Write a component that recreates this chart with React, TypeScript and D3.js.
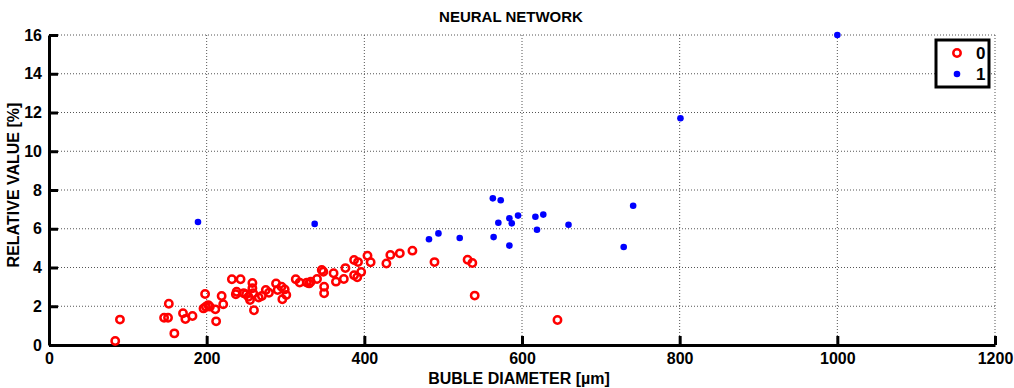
import React, { useEffect, useRef } from "react";
import * as d3 from "d3";

// Class 0 measurements: bubble diameter [µm] and relative value [%]
const class0Diameter = [
  84, 90, 146, 151, 152, 159, 170, 173, 182, 196, 198, 199, 202, 204, 211, 212,
  219, 221, 232, 237, 238, 243, 247, 250, 253, 255, 258, 258, 259, 260, 266, 270,
  275, 279, 288, 290, 295, 296, 299, 301, 313, 318, 327, 330, 332, 340, 346, 348,
  349, 349, 361, 364, 374, 376, 387, 387, 391, 392, 396, 404, 408, 428, 433, 445,
  461, 489, 531, 537, 540, 645,
];
const class0Value = [
  0.21, 1.31, 1.41, 1.41, 2.13, 0.6, 1.64, 1.34, 1.5, 1.89, 2.63, 1.98, 2.06, 1.98, 1.84, 1.22,
  2.53, 2.1, 3.39, 2.62, 2.75, 3.39, 2.67, 2.62, 2.49, 2.32, 3.2, 2.93, 2.67, 1.79, 2.45, 2.53,
  2.84, 2.7, 3.18, 2.84, 3.01, 2.36, 2.87, 2.58, 3.39, 3.22, 3.22, 3.18, 3.27, 3.41, 3.87, 3.78,
  3.01, 2.67, 3.7, 3.27, 3.41, 3.97, 4.39, 3.6, 3.5, 4.28, 3.77, 4.61, 4.27, 4.21, 4.65, 4.73,
  4.87, 4.28, 4.4, 4.23, 2.55, 1.29,
];

// Class 1 measurements
const class1Diameter = [
  189, 337, 482, 494, 521, 563, 573, 570, 584, 587, 595, 617, 627, 619, 659, 564,
  584, 741, 729, 801, 1000,
];
const class1Value = [
  6.35, 6.25, 5.46, 5.76, 5.52, 7.57, 7.47, 6.31, 6.54, 6.28, 6.68, 6.62, 6.73, 5.95, 6.21, 5.57,
  5.13, 7.19, 5.06, 11.7, 16.0,
];

const xTicks = [0, 200, 400, 600, 800, 1000, 1200];
const yTicks = [0, 2, 4, 6, 8, 10, 12, 14, 16];
const legendLabels = ["0", "1"];

const W = 1014;
const H = 388;
const M = { left: 49, right: 995, top: 35, bottom: 345 };
const FONT = "'Liberation Sans', Arial, Helvetica, sans-serif";

export default function App() {
  const ref = useRef<SVGSVGElement>(null);

  useEffect(() => {
    const svg = d3.select(ref.current);
    svg.selectAll("*").remove();

    const x = d3.scaleLinear().domain([0, 1200]).range([M.left, M.right]);
    const y = d3.scaleLinear().domain([0, 16]).range([M.bottom, M.top]);

    svg.append("rect").attr("width", W).attr("height", H).attr("fill", "#fff");

    // dotted grid
    const grid = svg.append("g").attr("stroke", "#555").attr("stroke-width", 1).attr("stroke-dasharray", "1,2");
    xTicks.slice(1).forEach((t) => {
      grid.append("line").attr("x1", x(t)).attr("x2", x(t)).attr("y1", M.top).attr("y2", M.bottom);
    });
    yTicks.slice(1).forEach((t) => {
      grid.append("line").attr("x1", M.left).attr("x2", M.right).attr("y1", y(t)).attr("y2", y(t));
    });

    // axes
    const fmt = d3.format("d");
    const xAxis = d3.axisBottom(x).tickValues(xTicks).tickFormat(fmt).tickSize(-9).tickPadding(8).tickSizeOuter(0);
    const gx = svg.append("g").attr("transform", `translate(0,${M.bottom})`).call(xAxis);
    const yAxis = d3.axisLeft(y).tickValues(yTicks).tickFormat(fmt).tickSize(-9).tickPadding(7).tickSizeOuter(0);
    const gy = svg.append("g").attr("transform", `translate(${M.left},0)`).call(yAxis);
    [gx, gy].forEach((g) => {
      g.select(".domain").attr("stroke", "#000").attr("stroke-width", 3);
      g.selectAll(".tick line").attr("stroke", "#000").attr("stroke-width", 3);
      g.selectAll(".tick text")
        .attr("font-family", FONT)
        .attr("font-weight", "bold")
        .attr("font-size", 16)
        .attr("fill", "#000");
    });

    // class 0: red open circles
    svg.append("g")
      .selectAll("circle")
      .data(d3.range(class0Diameter.length))
      .join("circle")
      .attr("cx", (i) => x(class0Diameter[i]))
      .attr("cy", (i) => y(class0Value[i]))
      .attr("r", 3.7)
      .attr("fill", "none")
      .attr("stroke", "#ff0000")
      .attr("stroke-width", 2.5);

    // class 1: blue dots
    svg.append("g")
      .selectAll("circle")
      .data(d3.range(class1Diameter.length))
      .join("circle")
      .attr("cx", (i) => x(class1Diameter[i]))
      .attr("cy", (i) => y(class1Value[i]))
      .attr("r", 3.3)
      .attr("fill", "#0000ff");

    // title and axis labels
    svg.append("text")
      .attr("x", 511)
      .attr("y", 22)
      .attr("text-anchor", "middle")
      .attr("font-family", FONT)
      .attr("font-weight", "bold")
      .attr("font-size", 15)
      .text("NEURAL NETWORK");
    svg.append("text")
      .attr("x", 519)
      .attr("y", 384)
      .attr("text-anchor", "middle")
      .attr("font-family", FONT)
      .attr("font-weight", "bold")
      .attr("font-size", 16)
      .text("BUBLE DIAMETER [µm]");
    svg.append("text")
      .attr("transform", `translate(19,185) rotate(-90)`)
      .attr("text-anchor", "middle")
      .attr("font-family", FONT)
      .attr("font-weight", "bold")
      .attr("font-size", 16)
      .text("RELATIVE VALUE [%]");

    // legend
    const lg = svg.append("g");
    lg.append("rect")
      .attr("x", 936).attr("y", 40).attr("width", 53).attr("height", 47)
      .attr("fill", "#fff").attr("stroke", "#000").attr("stroke-width", 3);
    lg.append("circle").attr("cx", 957).attr("cy", 53).attr("r", 3.7)
      .attr("fill", "none").attr("stroke", "#ff0000").attr("stroke-width", 2.5);
    lg.append("circle").attr("cx", 957).attr("cy", 74).attr("r", 3.3).attr("fill", "#0000ff");
    legendLabels.forEach((l, i) => {
      lg.append("text")
        .attr("x", 976).attr("y", 59 + i * 21)
        .attr("font-family", FONT).attr("font-weight", "bold").attr("font-size", 17)
        .text(l);
    });
  }, []);

  return (
    <svg ref={ref} width={W} height={H} style={{ position: "absolute", left: 0, top: 0, display: "block" }} />
  );
}
